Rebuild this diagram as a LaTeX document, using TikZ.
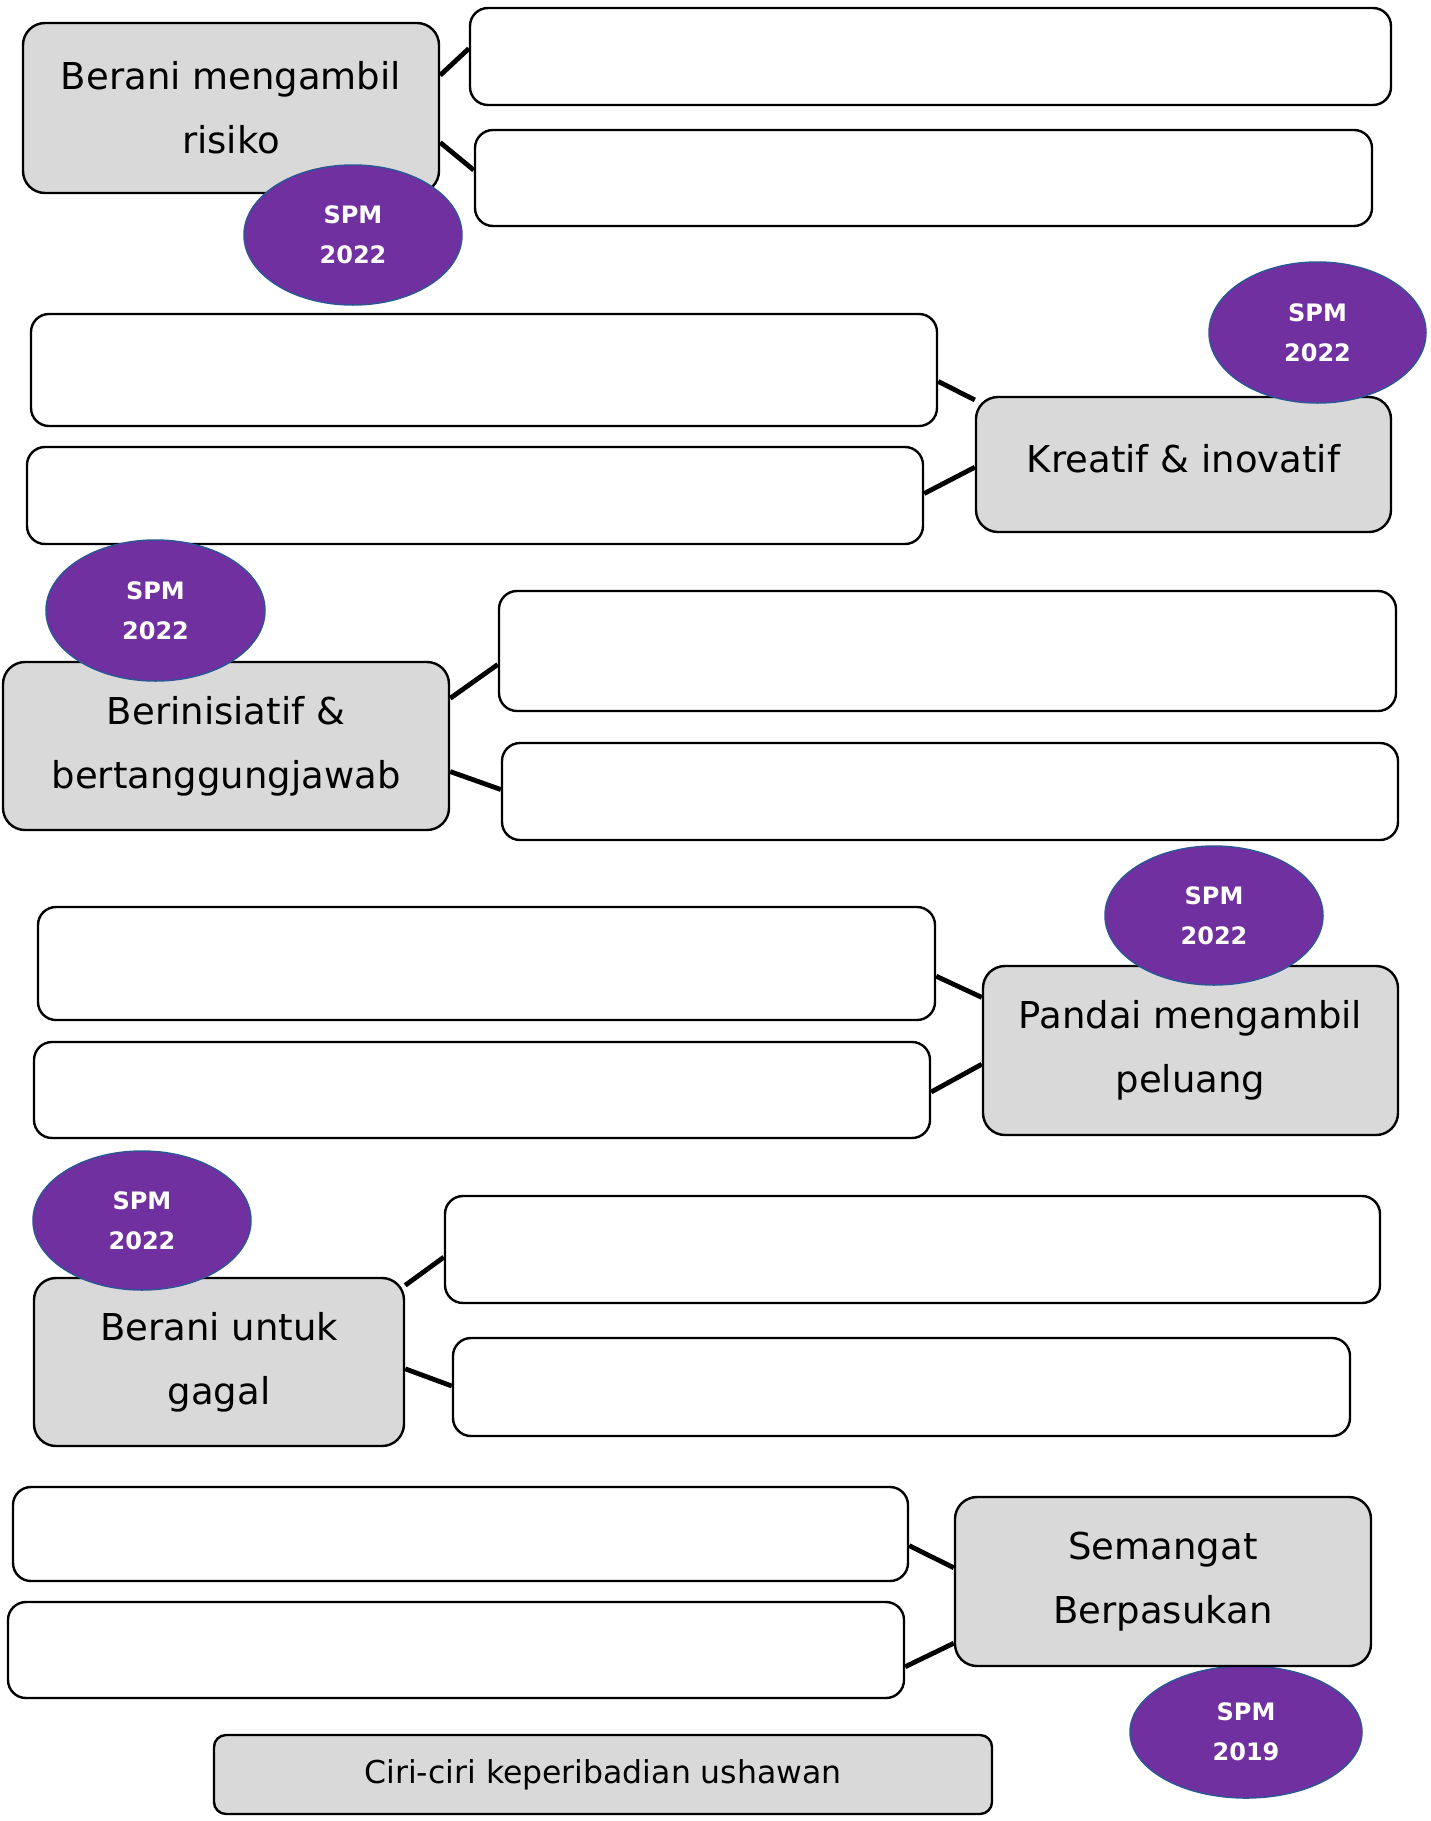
\documentclass[tikz,border=0pt]{standalone}
\usepackage{fontspec}
\setmainfont{DejaVu Sans}
\usepackage{tikz}
\usetikzlibrary{calc,positioning,shapes.geometric}

\definecolor{boxgrey}{HTML}{D9D9D9}
\definecolor{spmpurple}{HTML}{7030A0}
\definecolor{spmedge}{HTML}{2F5597}

\tikzset{
  greybox/.style={draw=black, line width=2.4pt, fill=boxgrey, rounded corners=22pt,
    align=center, inner sep=0pt, font=\fontsize{37}{64}\selectfont},
  answerbox/.style={draw=black, line width=2.4pt, fill=white, rounded corners=18pt, inner sep=0pt},
  spmbadge/.style={ellipse, draw=spmedge, line width=1.5pt, fill=spmpurple, text=white,
    inner sep=0pt, align=center, font=\fontsize{24}{40}\selectfont\bfseries},
  link/.style={line width=4.8pt, black}
}
% connectors: grey box on the left / grey box on the right
\newcommand{\linkto}[4]{\draw[link] ($(#1.north east)!#2!(#1.south east)$) -- ($(#3.north west)!#4!(#3.south west)$);}
\newcommand{\linkback}[4]{\draw[link] ($(#1.north west)!#2!(#1.south west)$) -- ($(#3.north east)!#4!(#3.south east)$);}

\begin{document}
\begin{tikzpicture}[x=1pt, y=-1pt]
\useasboundingbox (0,0) rectangle (1431,1821);

% Row 1: Berani mengambil risiko
\node[greybox, minimum width=416pt, minimum height=170pt] (risk) at (231,108) {Berani mengambil\\risiko};
\node[answerbox, minimum width=921pt, minimum height=97pt] (riskA) at (930.5,56.5) {};
\node[answerbox, minimum width=897pt, minimum height=96pt] (riskB) at (923.5,178) {};
\linkto{risk}{0.31}{riskA}{0.42}
\linkto{risk}{0.70}{riskB}{0.42}
\node[spmbadge, minimum width=218pt, minimum height=140pt] (spmRisk) at (353,235) {SPM\\2022};

% Row 2: Kreatif & inovatif
\node[answerbox, minimum width=906pt, minimum height=112pt] (creaA) at (484,370) {};
\node[answerbox, minimum width=896pt, minimum height=97pt] (creaB) at (475,495.5) {};
\node[greybox, minimum width=415pt, minimum height=135pt] (crea) at (1183.5,464.5) {\raisebox{12pt}{Kreatif \& inovatif}};
\linkback{crea}{0.03}{creaA}{0.60}
\linkback{crea}{0.52}{creaB}{0.48}
\node[spmbadge, minimum width=217pt, minimum height=141pt] (spmCrea) at (1317.5,332.5) {SPM\\2022};

% Row 3: Berinisiatif & bertanggungjawab
\node[greybox, minimum width=446pt, minimum height=168pt] (init) at (226,746) {Berinisiatif \&\\bertanggungjawab};
\node[answerbox, minimum width=897pt, minimum height=120pt] (initA) at (947.5,651) {};
\node[answerbox, minimum width=896pt, minimum height=97pt] (initB) at (950,791.5) {};
\linkto{init}{0.22}{initA}{0.61}
\linkto{init}{0.65}{initB}{0.48}
\node[spmbadge, minimum width=219pt, minimum height=141pt] (spmInit) at (155.5,610.5) {SPM\\2022};

% Row 4: Pandai mengambil peluang
\node[answerbox, minimum width=897pt, minimum height=113pt] (chanceA) at (486.5,963.5) {};
\node[answerbox, minimum width=896pt, minimum height=96pt] (chanceB) at (482,1090) {};
\node[greybox, minimum width=415pt, minimum height=169pt] (chance) at (1190.5,1050.5) {Pandai mengambil\\peluang};
\linkback{chance}{0.19}{chanceA}{0.61}
\linkback{chance}{0.58}{chanceB}{0.52}
\node[spmbadge, minimum width=218pt, minimum height=139pt] (spmChance) at (1214,915.5) {SPM\\2022};

% Row 5: Berani untuk gagal
\node[greybox, minimum width=370pt, minimum height=168pt] (fail) at (219,1362) {Berani untuk\\gagal};
\node[answerbox, minimum width=935pt, minimum height=107pt] (failA) at (912.5,1249.5) {};
\node[answerbox, minimum width=897pt, minimum height=98pt] (failB) at (901.5,1387) {};
\linkto{fail}{0.05}{failA}{0.57}
\linkto{fail}{0.54}{failB}{0.49}
\node[spmbadge, minimum width=218pt, minimum height=139pt] (spmFail) at (142,1220.5) {SPM\\2022};

% Row 6: Semangat Berpasukan
\node[answerbox, minimum width=895pt, minimum height=94pt] (teamA) at (460.5,1534) {};
\node[answerbox, minimum width=896pt, minimum height=96pt] (teamB) at (456,1650) {};
\node[spmbadge, minimum width=232pt, minimum height=132pt] (spmTeam) at (1246,1732) {SPM\\2019};
\node[greybox, minimum width=416pt, minimum height=169pt] (team) at (1163,1581.5) {Semangat\\Berpasukan};
\linkback{team}{0.42}{teamA}{0.62}
\linkback{team}{0.86}{teamB}{0.67}

% Title
\node[greybox, rounded corners=12pt, minimum width=778pt, minimum height=79pt,
  font=\fontsize{31.5}{36}\selectfont] (title) at (603,1774.5) {Ciri-ciri keperibadian ushawan};

\end{tikzpicture}
\end{document}
